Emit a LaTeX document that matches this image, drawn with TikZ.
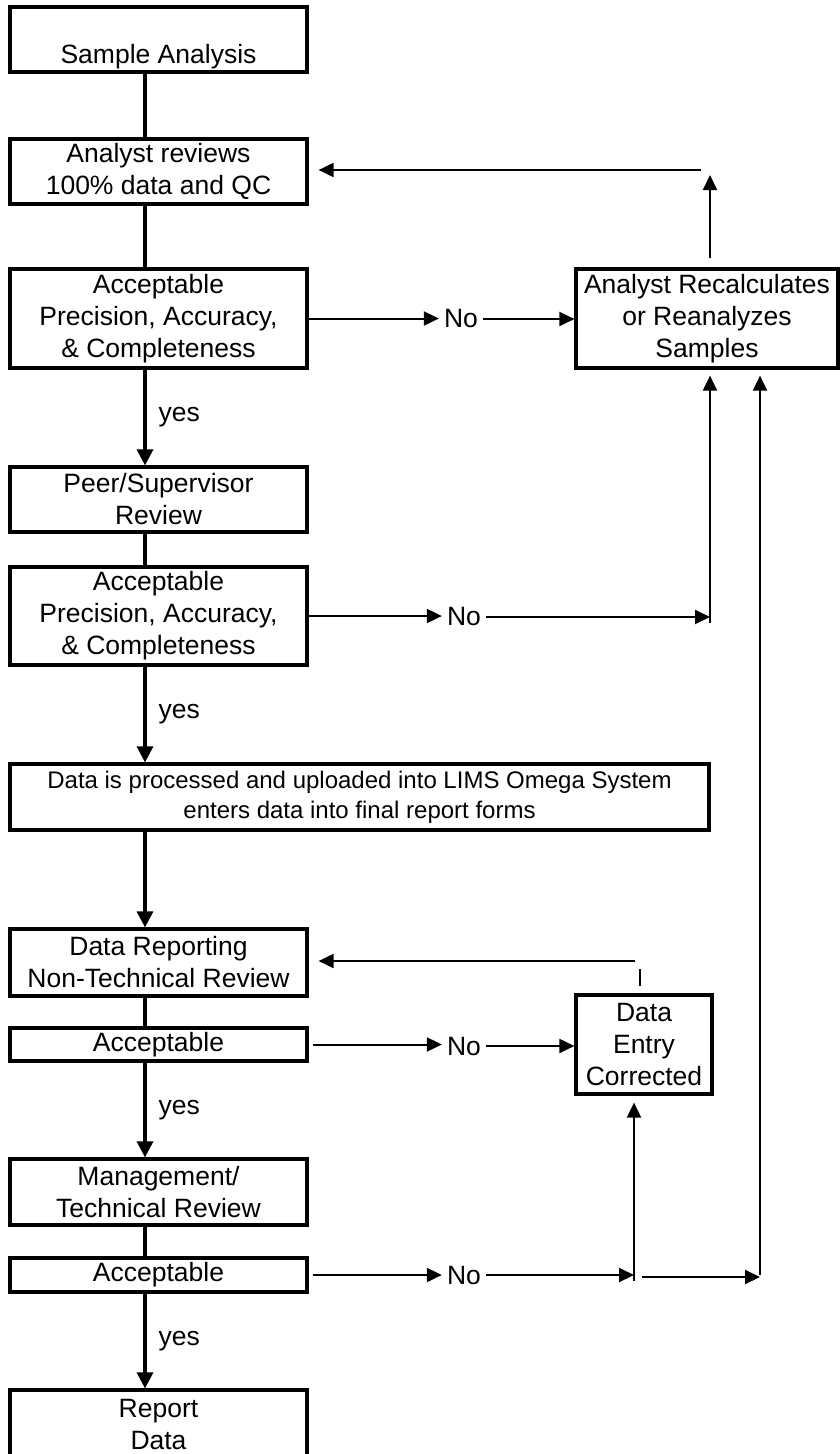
\documentclass[tikz,border=0pt]{standalone}
\usepackage{fontspec}
\setmainfont{Liberation Sans}
\usetikzlibrary{arrows.meta, positioning}

\begin{document}
\begin{tikzpicture}[x=1pt, y=-1pt,
    >={Triangle[length=15pt, width=14pt]},
    box/.style={draw, line width=3.2pt, align=center, inner sep=0pt,
      minimum width=297pt, font=\fontsize{26.5}{32}\selectfont},
    link/.style={line width=3.2pt},
    yesarrow/.style={line width=3.2pt, -{Triangle[length=16pt, width=16pt]}},
    noarrow/.style={line width=2pt, ->},
    lbl/.style={inner sep=5pt, font=\fontsize{26.5}{32}\selectfont}]
    \useasboundingbox (0,0) rectangle (840,1454);

    % Main column
    \coordinate (spine) at (145,0);
    \node[box, minimum height=65pt] (sample) at (158.5,39.5) {\strut\\Sample Analysis};
    \node[box, minimum height=65pt] (review) at (158.5,171.5) {Analyst reviews\\100\% data and QC};
    \node[box, minimum height=99pt] (accA) at (158.5,318.5) {Acceptable\\Precision, Accuracy,\\\& Completeness};
    \node[box, minimum height=65pt] (peer) at (158.5,499.5) {Peer/Supervisor\\Review};
    \node[box, minimum height=98pt] (accB) at (158.5,616) {Acceptable\\Precision, Accuracy,\\\& Completeness};
    \node[box, minimum width=699pt, minimum height=66pt, font=\fontsize{24}{30}\selectfont] (lims) at (359.5,797)
      {Data is processed and uploaded into LIMS Omega System\\enters data into final report forms};
    \node[box, minimum height=67pt] (dataRep) at (158.5,962.5) {Data Reporting\\Non-Technical Review};
    \node[box, minimum height=33pt] (accC) at (158.5,1044.5) {Acceptable};
    \node[box, minimum height=66pt] (mgmt) at (158.5,1192) {Management/\\Technical Review};
    \node[box, minimum height=34pt] (accD) at (158.5,1275) {Acceptable};
    \node[box, minimum height=68pt] (report) at (158.5,1424) {Report\\Data};

    % Correction boxes
    \node[box, minimum width=262pt, minimum height=99pt] (recalc) at (707,318.5) {Analyst Recalculates\\or Reanalyzes\\Samples};
    \node[box, minimum width=136pt, minimum height=99pt] (entry) at (644,1044.5) {Data\\Entry\\Corrected};

    % Main flow
    \draw[link] (sample.south -| spine) -- (review.north -| spine);
    \draw[link] (review.south -| spine) -- (accA.north -| spine);
    \draw[yesarrow] (accA.south -| spine) -- node[lbl, inner sep=0pt, right=12pt] (yesA) {yes} (peer.north -| spine);
    \draw[link] (peer.south -| spine) -- (accB.north -| spine);
    \draw[yesarrow] (accB.south -| spine) -- node[lbl, inner sep=0pt, right=12pt] (yesB) {yes} (lims.north -| spine);
    \draw[yesarrow] (lims.south -| spine) -- (dataRep.north -| spine);
    \draw[link] (dataRep.south -| spine) -- (accC.north -| spine);
    \draw[yesarrow] (accC.south -| spine) -- node[lbl, inner sep=0pt, right=12pt] (yesC) {yes} (mgmt.north -| spine);
    \draw[link] (mgmt.south -| spine) -- (accD.north -| spine);
    \draw[yesarrow] (accD.south -| spine) -- node[lbl, inner sep=0pt, right=12pt] (yesD) {yes} (report.north -| spine);

    % No branches
    \node[lbl] (noA) at (461,319) {No};
    \node[lbl] (noB) at (464,617) {No};
    \node[lbl] (noC) at (464,1046) {No};
    \node[lbl] (noD) at (464,1275) {No};
    \coordinate (colA) at (710,0);
    \coordinate (colB) at (634,0);
    \coordinate (colC) at (760,0);

    \draw[noarrow] (accA.east) -- (accA.east -| noA.west);
    \draw[noarrow] (noA.east) -- (noA.east -| recalc.west);
    \draw[noarrow] (accB.east) -- (accB.east -| noB.west);
    \draw[noarrow] (noB.east) -- (noB.east -| colA);
    \draw[noarrow] (colA |- noB.south) ++(0,-8) -- ([yshift=-6pt]recalc.south -| colA);
    \draw[noarrow, shorten <=4pt] (accC.east) -- (accC.east -| noC.west);
    \draw[noarrow] (noC.east) -- (noC.east -| entry.west);
    \draw[noarrow, shorten <=4pt] (accD.east) -- (noD.west);
    \draw[noarrow] (noD.east) -- (noD.east -| colB);
    \draw[noarrow] (colB |- noD) ++(0,6) -- ([yshift=-7pt]entry.south -| colB);
    \coordinate (hopD) at (642,1277);
    \draw[noarrow] (hopD) -- (hopD -| colC);
    \draw[noarrow] (colC |- noD) -- ([yshift=-6pt]recalc.south -| colC);

    % Loops back
    \coordinate (riseA) at (710,258);
    \draw[noarrow] (riseA) -- (710,175);
    \coordinate (backA) at (701,170);
    \draw[noarrow, shorten >=10pt] (backA) -- (backA -| review.east);
    \coordinate (backB) at (635,961);
    \draw[noarrow, shorten >=10pt] (backB) -- (backB -| dataRep.east);
    \coordinate (tickB) at (640,969);
    \draw[line width=2pt, shorten >=7pt] (tickB) -- (tickB |- entry.north);
\end{tikzpicture}
\end{document}
